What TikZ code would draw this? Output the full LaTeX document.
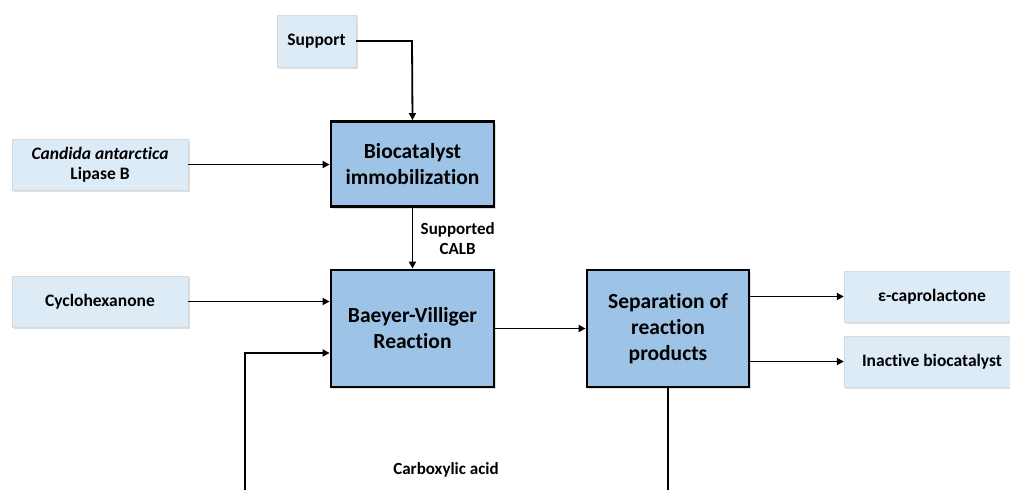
\documentclass[tikz,border=0pt]{standalone}
\usepackage{fontspec}
\setmainfont{Carlito}[Ligatures={NoCommon}]
\usetikzlibrary{arrows.meta,shadows}
\definecolor{lightbox}{HTML}{DDEBF7}
\definecolor{darkbox}{HTML}{9DC3E6}
\begin{document}
\begin{tikzpicture}[x=1pt,y=-1pt,
  inbox/.style={draw=black!15,fill=lightbox,font=\bfseries\fontsize{17.5}{20}\selectfont,align=center,
    drop shadow={shadow xshift=1.5pt,shadow yshift=-2pt,opacity=0.25}},
  procbox/.style={draw=black,line width=2.8pt,fill=darkbox,font=\bfseries\fontsize{21.5}{26}\selectfont,align=center,
    drop shadow={shadow xshift=2pt,shadow yshift=-2pt,opacity=0.25}},
  flow/.style={line width=1.8pt,-{Triangle[length=7pt,width=7pt]}},
  plain/.style={line width=1.8pt},
  lbl/.style={font=\bfseries\fontsize{17}{20}\selectfont,align=center}]
\useasboundingbox (0,0) rectangle (1010,490);
% input boxes
\node[inbox,minimum width=79pt,minimum height=52pt] (sup) at (316.5,41) {Support};
\node[inbox,minimum width=176pt,minimum height=51pt] (cal) at (100,164.5) {\textit{Candida antarctica}\\Lipase B};
\node[inbox,minimum width=176pt,minimum height=51pt] (cyc) at (100,301.5) {Cyclohexanone};
% process boxes
\node[procbox,minimum width=163pt,minimum height=85pt] (bio) at (412.5,164) {Biocatalyst\\immobilization};
\node[procbox,minimum width=163pt,minimum height=117pt] (bv) at (412.5,328.5) {Baeyer-Villiger\\Reaction};
\node[procbox,minimum width=162pt,minimum height=117pt] (sep) at (668,328.5) {Separation of\\reaction\\products};
% outputs
\node[inbox,minimum width=176pt,minimum height=51pt] (cap) at (932,296.5) {ε-caprolactone};
\node[inbox,minimum width=176pt,minimum height=51pt] (ina) at (932,361.5) {Inactive biocatalyst};
% coordinates
\coordinate (supc) at (412,41);
\coordinate (loopb) at (245,492);
\coordinate (loopt) at (245,353);
\coordinate (sepb) at (668,492);
% connectors
\draw[flow] (sup.east) -- (supc) -- (bio.north);
\draw[flow] (cal.east) -- (cal.east -| bio.west);
\draw[flow] (bio.south) -- node[lbl,right=4pt] {Supported\\CALB} (bv.north);
\draw[flow] (cyc.east) -- (cyc.east -| bv.west);
\draw[flow] (loopb) -- (loopt) -- (loopt -| bv.west);
\draw[flow] (bv.east) -- (sep.west);
\draw[flow] (sep.east |- cap.west) -- (cap.west);
\draw[flow] (sep.east |- ina.west) -- (ina.west);
\draw[plain] (sep.south) -- (sepb);
\node[lbl] (acid) at (446,470) {Carboxylic acid};
\end{tikzpicture}
\end{document}
